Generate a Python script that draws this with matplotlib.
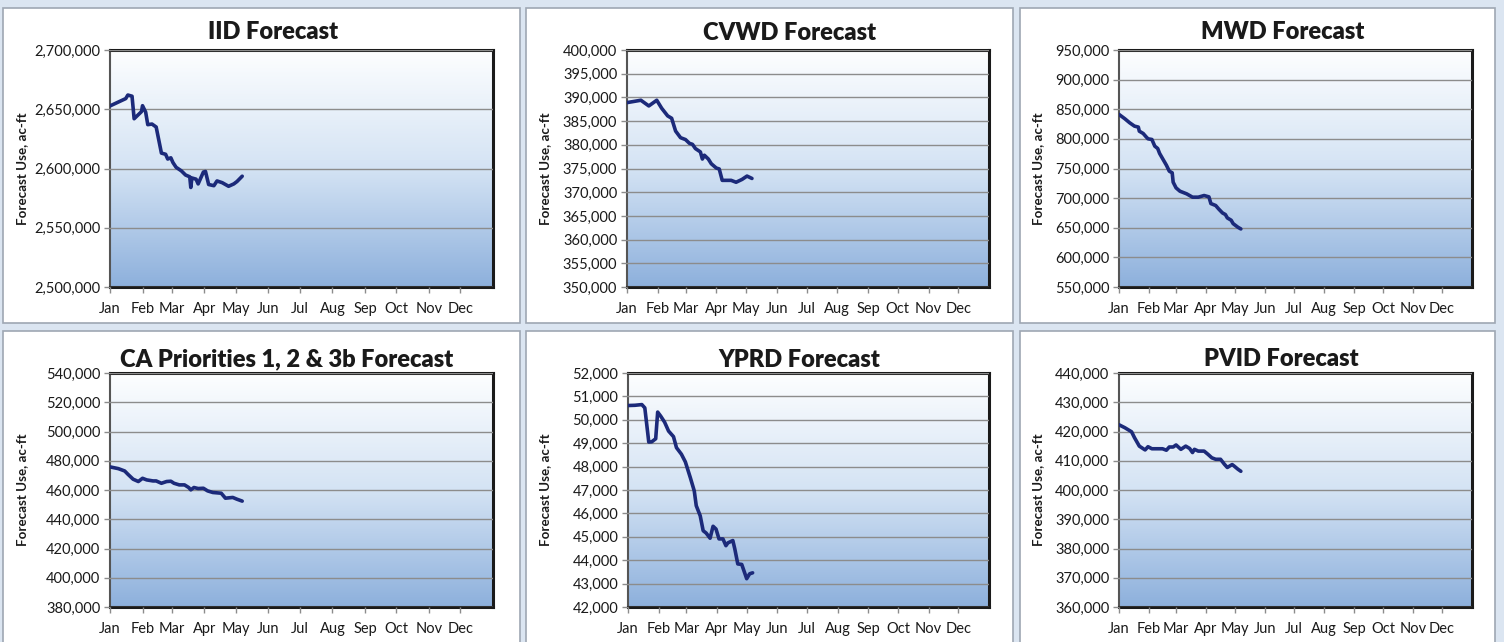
import matplotlib.pyplot as plt
import numpy as np
from matplotlib.patches import Rectangle
from matplotlib.ticker import FuncFormatter
from matplotlib.colors import LinearSegmentedColormap

# Tag im Jahr (0 = 1. Jan) und Prognosewerte
iid_day = [0, 15, 17, 21, 23, 30, 31, 34, 36, 40, 44, 49, 53, 55, 58, 60, 63, 68, 72, 76,
           77, 78, 82, 84, 89, 91, 94, 99, 102, 107, 113, 118, 121, 126]
iid_val = [2652800, 2659000, 2662000, 2661000, 2642000, 2648000, 2653000, 2647500, 2637000,
           2637500, 2635000, 2613000, 2612000, 2608000, 2609000, 2605000, 2601000, 2598000,
           2594500, 2593000, 2584000, 2592000, 2591000, 2587000, 2597000, 2597500, 2586500,
           2585500, 2589500, 2588000, 2585000, 2587000, 2589000, 2593500]

cvwd_day = [0, 14, 22, 30, 35, 41, 45, 49, 54, 59, 63, 66, 69, 74, 76, 78, 82, 85, 90, 93,
            96, 105, 110, 116, 121, 126]
cvwd_val = [388900, 389400, 388200, 389400, 387700, 386100, 385600, 382900, 381500, 381100,
            380300, 380100, 379200, 378500, 377000, 377800, 377000, 376000, 375100, 374900,
            372500, 372500, 372100, 372700, 373400, 372900]

mwd_day = [0, 6, 11, 16, 20, 21, 25, 28, 30, 34, 37, 40, 42, 45, 49, 52, 55, 56, 59, 63,
           70, 76, 82, 88, 93, 95, 100, 103, 107, 110, 112, 116, 118, 123, 126]
mwd_val = [841300, 834000, 827200, 821500, 819900, 813000, 809100, 803500, 800100, 799000,
           787700, 783800, 775400, 766900, 755600, 745500, 742700, 726900, 717300, 711700,
           707200, 701600, 701600, 704400, 702100, 690800, 687500, 681800, 675000, 672300,
           666600, 662700, 657000, 650800, 648000]

ca_day = [0, 8, 14, 17, 22, 27, 31, 35, 41, 44, 49, 54, 58, 61, 66, 71, 75, 77, 80, 84,
          89, 93, 98, 106, 110, 117, 121, 126]
ca_val = [475800, 474600, 473000, 470800, 467400, 465800, 468000, 466900, 466200, 466200,
          464600, 465800, 466000, 464600, 463500, 463500, 461700, 460100, 461700, 461000,
          461200, 459400, 458300, 457800, 454400, 454900, 453700, 452400]

yprd_day = [0, 7, 14, 17, 21, 24, 28, 30, 33, 37, 41, 46, 49, 54, 58, 63, 67, 69, 73, 76,
            79, 83, 86, 89, 92, 96, 99, 101, 106, 108, 111, 115, 120, 123, 126]
yprd_val = [50610, 50620, 50650, 50510, 49050, 49060, 49190, 50330, 50160, 49900, 49520,
            49280, 48810, 48530, 48200, 47530, 46960, 46330, 45900, 45260, 45160, 44940,
            45450, 45330, 44910, 44910, 44620, 44740, 44840, 44480, 43840, 43820, 43210,
            43420, 43460]

pvid_day = [0, 6, 13, 16, 21, 27, 30, 34, 40, 45, 49, 52, 56, 59, 61, 64, 69, 73, 76, 78,
            82, 88, 92, 96, 100, 105, 109, 112, 117, 119, 123, 126]
pvid_val = [422300, 421300, 419900, 417900, 415000, 413700, 414800, 414100, 414100, 414100,
            413600, 414700, 414700, 415400, 414800, 413900, 415000, 414200, 412800, 413900,
            413300, 413300, 412200, 411000, 410500, 410500, 408800, 407700, 408700, 408200,
            407100, 406400]

titles = ["IID Forecast", "CVWD Forecast", "MWD Forecast",
          "CA Priorities 1, 2 & 3b Forecast", "YPRD Forecast", "PVID Forecast"]
month_labels = ["Jan", "Feb", "Mar", "Apr", "May", "Jun", "Jul", "Aug", "Sep", "Oct", "Nov", "Dec"]
month_start = [0, 31, 59, 90, 120, 151, 181, 212, 243, 273, 304, 334]
y_ranges = [(2500000, 2700000, 50000), (350000, 400000, 5000), (550000, 950000, 50000),
            (380000, 540000, 20000), (42000, 52000, 1000), (360000, 440000, 10000)]
series = [(iid_day, iid_val), (cvwd_day, cvwd_val), (mwd_day, mwd_val),
          (ca_day, ca_val), (yprd_day, yprd_val), (pvid_day, pvid_val)]

W, H = 1504, 642
plt.rcParams['font.family'] = ['Lato', 'DejaVu Sans']
fig = plt.figure(figsize=(W / 100, H / 100), dpi=100)
fig.patch.set_facecolor('#dbe5f1')

# Rahmen der einzelnen Diagramme (Pixel: links, oben, rechts, unten)
boxes = [(3, 8, 520, 323), (526, 8, 1013, 323), (1020, 8, 1495, 323),
         (3, 331, 520, 650), (526, 331, 1013, 650), (1020, 331, 1495, 650)]
# Plotbereiche
areas = [(110, 50, 493, 287), (627, 50, 989, 287), (1119, 50, 1472, 287),
         (110, 373, 493, 607), (628, 373, 989, 607), (1119, 373, 1472, 607)]
title_pos = [(273, 32), (790, 33), (1283, 32), (287, 359), (799, 360), (1281, 359)]
ylabel_x = [22, 545, 1038, 22, 545, 1038]

for (l, t, r, b) in boxes:
    fig.patches.append(Rectangle((l / W, 1 - b / H), (r - l) / W, (b - t) / H,
                                 transform=fig.transFigure, facecolor='white',
                                 edgecolor='#9ea7b3', linewidth=1.2, zorder=-5))

grad = np.linspace(0, 1, 256).reshape(-1, 1)
cmap = LinearSegmentedColormap.from_list('bg', ['#fdfeff', '#d4e3f4', '#8db0dc'])

for i in range(6):
    l, t, r, b = areas[i]
    ax = fig.add_axes([l / W, 1 - b / H, (r - l) / W, (b - t) / H], zorder=2)
    ax.imshow(grad, extent=[0, 1, 0, 1], transform=ax.transAxes, cmap=cmap,
              aspect='auto', zorder=0, origin='upper')
    lo, hi, step = y_ranges[i]
    ax.set_ylim(lo, hi)
    ax.set_xlim(0, 365)
    ax.set_yticks(np.arange(lo, hi + step / 2, step))
    ax.yaxis.set_major_formatter(FuncFormatter(lambda v, p: f"{int(round(v)):,}"))
    ax.set_xticks(month_start)
    ax.set_xticklabels(month_labels)
    ax.grid(axis='y', color='#8c8c8c', linewidth=1.0, zorder=1)
    ax.set_axisbelow(False)
    ax.tick_params(axis='both', colors='#8c8c8c', labelcolor='#1a1a1a', labelsize=10.5,
                   length=4, width=1, direction='out', pad=3)
    ax.tick_params(axis='x', pad=7)
    for s in ax.spines.values():
        s.set_color('#1a1a1a')
        s.set_linewidth(2.2)
    ax.spines['left'].set_color('#555555')
    ax.spines['left'].set_linewidth(1.5)
    d, v = series[i]
    ax.plot(d, v, color='#1c2a7a', linewidth=2.6, solid_joinstyle='round',
            solid_capstyle='round', zorder=3)
    fig.text(title_pos[i][0] / W, 1 - title_pos[i][1] / H, titles[i], ha='center',
             va='center', fontsize=17, fontweight='heavy', color='#1a1a1a', zorder=3)
    fig.text(ylabel_x[i] / W, 1 - ((t + b) / 2) / H, "Forecast Use, ac-ft", rotation=90,
             ha='center', va='center', fontsize=9.6, fontweight='bold', color='#1a1a1a',
             zorder=3)

fig.savefig('out.png', dpi=100, facecolor=fig.get_facecolor())
